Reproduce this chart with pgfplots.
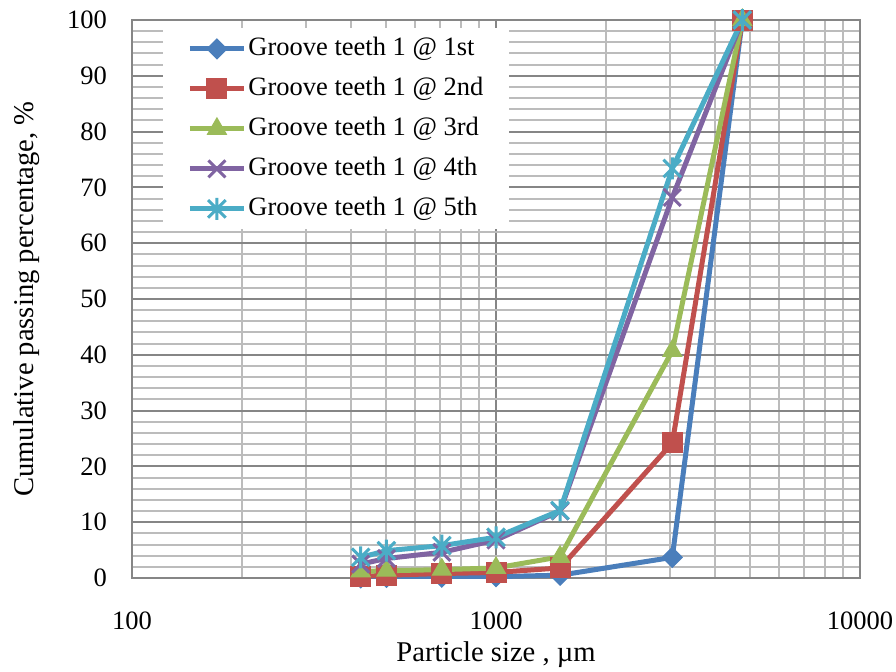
\documentclass[border=0pt]{standalone}
\usepackage{fontspec}
\setmainfont{Liberation Serif}
\usepackage{pgfplots}
\pgfplotsset{compat=1.18}

\definecolor{cA}{HTML}{4A7EBB}
\definecolor{cB}{HTML}{C0504D}
\definecolor{cC}{HTML}{9BBB59}
\definecolor{cD}{HTML}{8064A2}
\definecolor{cE}{HTML}{4BACC6}
\definecolor{gmaj}{HTML}{868686}
\definecolor{gmin}{HTML}{BCBCBC}

% Excel-like marks
\pgfdeclareplotmark{xldiamond}{%
  \pgfpathmoveto{\pgfqpoint{0pt}{\pgfplotmarksize}}%
  \pgfpathlineto{\pgfqpoint{\pgfplotmarksize}{0pt}}%
  \pgfpathlineto{\pgfqpoint{0pt}{-\pgfplotmarksize}}%
  \pgfpathlineto{\pgfqpoint{-\pgfplotmarksize}{0pt}}%
  \pgfpathclose
  \pgfusepathqfillstroke}
\pgfdeclareplotmark{xlstar}{%
  \pgfpathmoveto{\pgfqpoint{0pt}{-\pgfplotmarksize}}%
  \pgfpathlineto{\pgfqpoint{0pt}{\pgfplotmarksize}}%
  \pgfpathmoveto{\pgfqpoint{-0.8\pgfplotmarksize}{-0.8\pgfplotmarksize}}%
  \pgfpathlineto{\pgfqpoint{0.8\pgfplotmarksize}{0.8\pgfplotmarksize}}%
  \pgfpathmoveto{\pgfqpoint{-0.8\pgfplotmarksize}{0.8\pgfplotmarksize}}%
  \pgfpathlineto{\pgfqpoint{0.8\pgfplotmarksize}{-0.8\pgfplotmarksize}}%
  \pgfusepathqstroke}
\pgfdeclareplotmark{xlcross}{%
  \pgfpathmoveto{\pgfqpoint{-\pgfplotmarksize}{-\pgfplotmarksize}}%
  \pgfpathlineto{\pgfqpoint{\pgfplotmarksize}{\pgfplotmarksize}}%
  \pgfpathmoveto{\pgfqpoint{-\pgfplotmarksize}{\pgfplotmarksize}}%
  \pgfpathlineto{\pgfqpoint{\pgfplotmarksize}{-\pgfplotmarksize}}%
  \pgfusepathqstroke}

\begin{document}
\begin{tikzpicture}
\begin{axis}[
  name=ax,
  scale only axis,
  width=364pt, height=279pt,
  xmode=log,
  xmin=100, xmax=10000,
  ymin=0, ymax=100,
  xtick={100,1000,10000},
  xticklabels={100,1000,10000},
  ytick={0,10,...,100},
  minor y tick num=4,
  grid=both,
  major grid style={color=gmaj, line width=1pt},
  minor grid style={color=gmin, line width=1pt},
  major tick length=0pt, minor tick length=0pt,
  axis line style={color=gmaj, line width=1pt},
  /pgf/number format/assume math mode=true,
  tick label style={font=\fontsize{13.25}{15}\selectfont},
  xticklabel style={yshift=-13.5pt},
  yticklabel style={xshift=-9pt},
  xlabel={Particle size , µm},
  ylabel={Cumulative passing percentage, \%},
  label style={font=\fontsize{14.3}{16}\selectfont},
  xlabel style={at={(axis description cs:0.5,0)}, anchor=base, yshift=-41.5pt},
  ylabel style={at={(axis description cs:-0.1442,0.5)}, anchor=center},
  legend style={at={(axis description cs:0.0426,0.9857)}, anchor=north west,
    draw=none, fill=white, font=\fontsize{13.25}{15}\selectfont,
    inner xsep=12pt, inner ysep=3pt, row sep=5.5pt,
    nodes={inner sep=1pt, text height=9.5pt, text depth=3pt}},
  legend cell align=left,
  legend image code/.code={\draw[mark repeat=2,mark phase=2]
    plot coordinates {(0pt,0pt) (13.5pt,0pt) (27pt,0pt)};},
  every axis plot/.append style={line width=2.5pt},
]

\addplot[cA, mark=xldiamond, mark size=5pt, mark options={line width=0.5pt}] coordinates {
  (425,0) (500,0.1) (710,0.15) (1000,0.25) (1500,0.5) (3050,3.7) (4750,100)
};
\addlegendentry{Groove teeth 1 @ 1st}

\addplot[cB, mark=square*, mark size=5pt, mark options={line width=0.5pt}] coordinates {
  (425,0.3) (500,0.5) (710,0.8) (1000,1.0) (1500,1.8) (3050,24.2) (4750,100)
};
\addlegendentry{Groove teeth 1 @ 2nd}

\addplot[cC, mark=triangle*, mark size=5.5pt, mark options={line width=0.5pt}] coordinates {
  (425,1.2) (500,1.3) (710,1.5) (1000,1.8) (1500,3.8) (3050,40.7) (4750,100)
};
\addlegendentry{Groove teeth 1 @ 3rd}

\addplot[cD, mark=xlcross, mark size=4.25pt, mark options={line width=1.5pt}] coordinates {
  (425,2.5) (500,3.5) (710,4.6) (1000,6.8) (1500,12.0) (3050,68.2) (4750,100)
};
\addlegendentry{Groove teeth 1 @ 4th}

\addplot[cE, mark=xlstar, mark size=5.5pt, mark options={line width=1.5pt}] coordinates {
  (425,3.7) (500,4.9) (710,5.8) (1000,7.3) (1500,12.1) (3050,73.4) (4750,100)
};
\addlegendentry{Groove teeth 1 @ 5th}

\end{axis}
\pgfresetboundingbox
\path[use as bounding box] ([xshift=-66pt,yshift=-46.5pt]ax.south west)
  rectangle ([xshift=18pt,yshift=10pt]ax.north east);
\end{tikzpicture}
\end{document}
